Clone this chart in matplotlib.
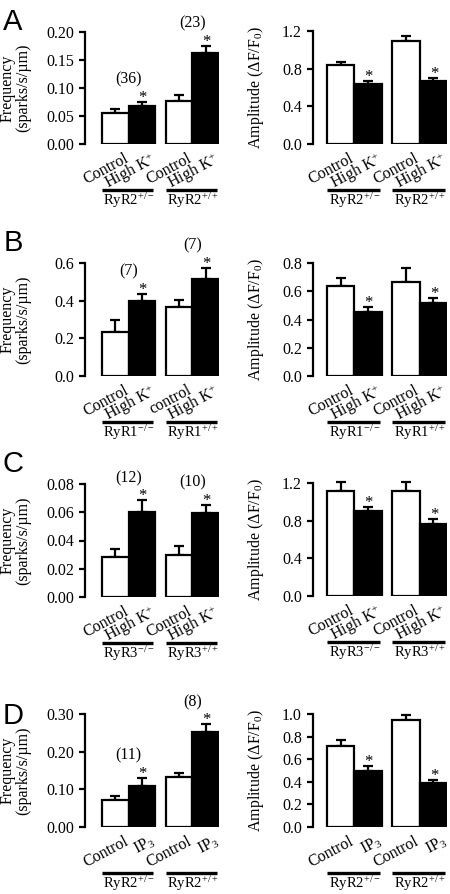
import numpy as np
import matplotlib
matplotlib.use('Agg')
import matplotlib.pyplot as plt

plt.rcParams['font.family'] = ['Liberation Serif', 'DejaVu Serif']
plt.rcParams['mathtext.fontset'] = 'custom'
plt.rcParams['mathtext.rm'] = 'Liberation Serif'
plt.rcParams['mathtext.it'] = 'Liberation Serif:italic'
plt.rcParams['mathtext.bf'] = 'Liberation Serif:bold'

# ---- data (mean, upper SEM) ----
# order: group1 control, group1 treated, group2 control, group2 treated
freq_A = [0.056, 0.068, 0.077, 0.162]
freq_A_err = [0.006, 0.007, 0.010, 0.013]
amp_A = [0.84, 0.64, 1.09, 0.67]
amp_A_err = [0.03, 0.03, 0.06, 0.03]

freq_B = [0.236, 0.396, 0.364, 0.516]
freq_B_err = [0.062, 0.041, 0.041, 0.057]
amp_B = [0.634, 0.456, 0.669, 0.516]
amp_B_err = [0.060, 0.036, 0.096, 0.036]

freq_C = [0.0285, 0.0602, 0.0295, 0.0597]
freq_C_err = [0.0055, 0.0083, 0.0066, 0.0054]
amp_C = [1.12, 0.90, 1.12, 0.765]
amp_C_err = [0.09, 0.04, 0.09, 0.05]

freq_D = [0.071, 0.110, 0.132, 0.251]
freq_D_err = [0.011, 0.021, 0.011, 0.022]
amp_D = [0.721, 0.496, 0.944, 0.392]
amp_D_err = [0.048, 0.044, 0.051, 0.024]

highk = 'High K$^{+}$'
labels_A = ['Control', highk, 'Control', highk]
labels_B_freq = ['Control', highk, 'control', highk]
labels_B_amp = ['Control', highk, 'Control', highk]
labels_C = ['Control', highk, 'Control', highk]
labels_D = ['Control', 'IP$_{3}$', 'Control', 'IP$_{3}$']

groups_A = ['RyR2$^{+/-}$', 'RyR2$^{+/+}$']
groups_B = ['RyR1$^{-/-}$', 'RyR1$^{+/+}$']
groups_C = ['RyR3$^{-/-}$', 'RyR3$^{+/+}$']
groups_D = ['RyR2$^{+/-}$', 'RyR2$^{+/+}$']

n_A = ['(36)', '(23)']
n_B = ['(7)', '(7)']
n_C = ['(12)', '(10)']
n_D = ['(11)', '(8)']

freq_ticks_A = [0, 0.05, 0.10, 0.15, 0.20]
freq_ticks_B = [0, 0.2, 0.4, 0.6]
freq_ticks_C = [0, 0.02, 0.04, 0.06, 0.08]
freq_ticks_D = [0, 0.10, 0.20, 0.30]
amp_ticks_A = [0, 0.4, 0.8, 1.2]
amp_ticks_B = [0, 0.2, 0.4, 0.6, 0.8]
amp_ticks_C = [0, 0.4, 0.8, 1.2]
amp_ticks_D = [0, 0.2, 0.4, 0.6, 0.8, 1.0]

xpos = np.array([0, 1, 2.38, 3.38])

W, H = 450, 894
fig = plt.figure(figsize=(W / 100, H / 100), dpi=100)


def make_ax(x0, x1, ytop, ybot):
    return fig.add_axes([x0 / W, 1 - ybot / H, (x1 - x0) / W, (ybot - ytop) / H])


def panel(ax, vals, errs, labels, groups, ticks, fmt, ylabel, xl, nlab=None, lab_x=-0.39):
    colors = ['white', 'black', 'white', 'black']
    ax.bar(xpos, vals, width=1.0, color=colors, edgecolor='black', linewidth=1.6, zorder=2)
    ax.errorbar(xpos, vals, yerr=[np.zeros(4), errs], fmt='none', ecolor='black',
                elinewidth=1.6, capsize=3.5, capthick=1.6, zorder=1, clip_on=False)
    ax.set_xlim(xl, 3.88)
    ax.set_ylim(0, ticks[-1])
    ax.set_yticks(ticks)
    ax.set_yticklabels([fmt.format(t) for t in ticks])
    ax.set_xticks([])
    for s in ['top', 'right', 'bottom']:
        ax.spines[s].set_visible(False)
    ax.spines['left'].set_linewidth(1.6)
    ax.tick_params(axis='y', direction='out', length=4, width=1.6, pad=4, labelsize=11.5)
    ax.set_ylabel(ylabel, fontsize=11.5, linespacing=1.0)
    ax.yaxis.set_label_coords(lab_x, 0.5)
    tr = ax.get_xaxis_transform()
    hgt = ax.get_window_extent().height
    # rotated treatment labels
    for x, lab in zip(xpos, labels):
        ax.text(x + 0.3, -6 / hgt, lab, transform=tr, rotation=28, rotation_mode='anchor',
                ha='right', va='top', fontsize=11.5)
    # group lines and labels
    for g in range(2):
        xa, xb = xpos[2 * g], xpos[2 * g + 1]
        ax.plot([xa - 0.5, xb + 0.42], [-46 / hgt, -46 / hgt], transform=tr, color='black',
                lw=2.4, clip_on=False, solid_capstyle='butt')
        ax.text((xa + xb) / 2, -61 / hgt, groups[g], transform=tr, ha='center', va='baseline',
                fontsize=10.5)
    # asterisks on treated bars
    for i in [1, 3]:
        ax.annotate('*', xy=(xpos[i], vals[i] + errs[i]), xytext=(0.5, 0), textcoords='offset points',
                    ha='center', va='baseline', fontsize=12, annotation_clip=False)
    if nlab is not None:
        for g in range(2):
            top = max(vals[2 * g] + errs[2 * g], vals[2 * g + 1] + errs[2 * g + 1])
            ax.annotate(nlab[g], xy=(xpos[2 * g] + 0.5, top), xytext=(0, 16),
                        textcoords='offset points', ha='center', va='center', fontsize=11.5,
                        annotation_clip=False)


freq_label = 'Frequency\n(sparks/s/\u00b5m)'
amp_label = 'Amplitude (\u0394F/F$_{0}$)'

rows = [
    (freq_A, freq_A_err, labels_A, groups_A, freq_ticks_A, '{:.2f}', n_A,
     amp_A, amp_A_err, labels_A, amp_ticks_A, '{:.1f}', (32, 144), (31, 144)),
    (freq_B, freq_B_err, labels_B_freq, groups_B, freq_ticks_B, '{:.1f}', n_B,
     amp_B, amp_B_err, labels_B_amp, amp_ticks_B, '{:.1f}', (263, 376), (263, 376)),
    (freq_C, freq_C_err, labels_C, groups_C, freq_ticks_C, '{:.2f}', n_C,
     amp_C, amp_C_err, labels_C, amp_ticks_C, '{:.1f}', (484, 597), (483, 596)),
    (freq_D, freq_D_err, labels_D, groups_D, freq_ticks_D, '{:.2f}', n_D,
     amp_D, amp_D_err, labels_D, amp_ticks_D, '{:.1f}', (714, 827), (714, 827)),
]

for (fv, fe, fl, gr, ft, ff, nl, av, ae, al, at, af, fy, ay) in rows:
    axf = make_ax(85, 219, fy[0], fy[1])
    panel(axf, fv, fe, fl, gr, ft, ff, freq_label, -1.14, nlab=nl, lab_x=-0.40)
    axa = make_ax(313, 447, ay[0], ay[1])
    panel(axa, av, ae, al, gr, at, af, amp_label, -1.01, lab_x=-0.35)

letters = ['A', 'B', 'C', 'D']
letter_y = [22, 243, 464, 716]
for L, yy in zip(letters, letter_y):
    fig.text(13 / W, 1 - yy / H, L, ha='center', va='center', fontsize=21,
             family=['Liberation Sans', 'DejaVu Sans'])

fig.savefig('out.png', dpi=100)
